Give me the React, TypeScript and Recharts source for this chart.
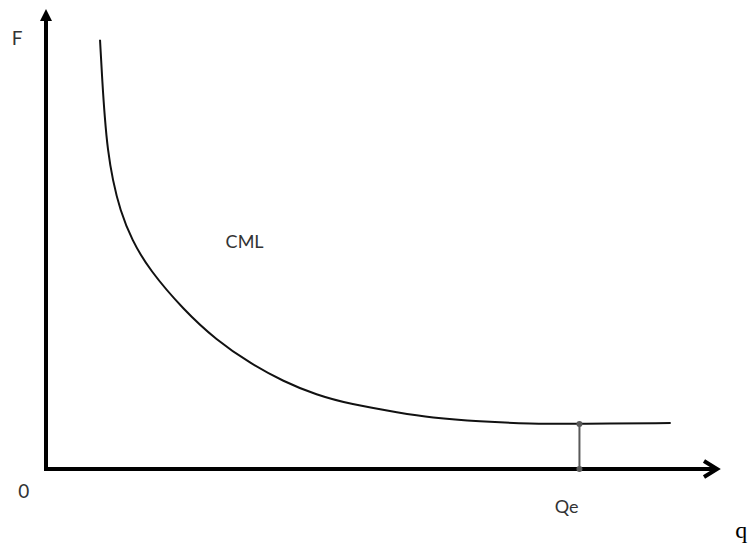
import { LineChart, Line, XAxis, YAxis, ReferenceLine, ReferenceDot } from "recharts";

// CML curve (q, F)
const qValues = [8.05, 8.4, 8.75, 9.2, 9.94, 11.03, 12.77, 15.4, 20.5, 25.4, 30.4, 35.4, 40.3, 45.3, 52.8, 57.2, 64.7, 72.1, 79.6, 93.1];
const fValues = [93.3, 84.0, 76.5, 69.3, 62.8, 56.3, 49.8, 43.3, 34.6, 28.0, 23.0, 19.0, 16.1, 14.1, 12.2, 11.2, 10.3, 9.85, 9.8, 10.0];

const qe = 79.5;
const fAtQe = 9.8;

// text labels with their position in data units
const labelNames = ["F", "0", "Qe", "CML", "q"];
const labelQ = [-4.3, -3.3, 77.6, 29.6, 103.6];
const labelF = [93.7, -4.6, -8.0, 49.6, -13.3];

const curve = qValues.map((q, i) => ({ q, f: fValues[i] }));

const labelStyle: Record<string, { font: string; size: number }> = {
  F: { font: "Lato, 'Open Sans', sans-serif", size: 19 },
  "0": { font: "Lato, 'Open Sans', sans-serif", size: 19 },
  Qe: { font: "Lato, 'Open Sans', sans-serif", size: 18 },
  CML: { font: "Lato, 'Open Sans', sans-serif", size: 18 },
  q: { font: "'Liberation Serif', serif", size: 24 },
};

const YArrow = (p: any) => {
  const { x1, y1, x2, y2 } = p;
  return (
    <g>
      <line x1={x1} y1={y1 + 2} x2={x2} y2={y2 + 10} stroke="#000" strokeWidth={4} />
      <path d={`M${x2},${y2} L${x2 - 6},${y2 + 12} L${x2 + 6},${y2 + 12} Z`} fill="#000" />
    </g>
  );
};

const XArrow = (p: any) => {
  const { x1, y1, x2, y2 } = p;
  return (
    <g>
      <line x1={x1 - 2} y1={y1} x2={x2 - 2} y2={y2} stroke="#000" strokeWidth={4} />
      <path
        d={`M${x2 - 13},${y2 - 8} L${x2},${y2} L${x2 - 13},${y2 + 8}`}
        fill="none"
        stroke="#000"
        strokeWidth={4}
        strokeLinejoin="miter"
      />
    </g>
  );
};

const App = () => {
  return (
    <div style={{ position: "absolute", left: 0, top: 0, background: "#fff" }}>
      <LineChart width={752} height={544} data={curve} margin={{ top: 9, right: 35, bottom: 75, left: 46 }}>
        <XAxis type="number" dataKey="q" domain={[0, 100]} hide />
        <YAxis type="number" domain={[0, 100]} hide />
        <ReferenceLine
          segment={[{ x: 0, y: 0 }, { x: 0, y: 100 }]}
          ifOverflow="visible"
          shape={YArrow}
        />
        <ReferenceLine
          segment={[{ x: 0, y: 0 }, { x: 100, y: 0 }]}
          ifOverflow="visible"
          shape={XArrow}
        />
        <Line
          type="basis"
          dataKey="f"
          stroke="#111"
          strokeWidth={2}
          dot={false}
          isAnimationActive={false}
        />
        <ReferenceLine
          segment={[{ x: qe, y: 0 }, { x: qe, y: fAtQe }]}
          stroke="#595959"
          strokeWidth={2}
          ifOverflow="visible"
        />
        <ReferenceDot x={qe} y={0} r={3} fill="#595959" stroke="none" ifOverflow="visible" />
        <ReferenceDot x={qe} y={fAtQe} r={3} fill="#595959" stroke="none" ifOverflow="visible" />
        {labelNames.map((name, i) => (
          <ReferenceDot
            key={name}
            x={labelQ[i]}
            y={labelF[i]}
            r={0}
            ifOverflow="visible"
            shape={(p: any) => (
              <text
                x={p.cx}
                y={p.cy}
                textAnchor="middle"
                dominantBaseline="central"
                fontFamily={labelStyle[name].font}
                fontSize={labelStyle[name].size}
                fill={name === "q" ? "#000" : "#333"}
              >
                {name}
              </text>
            )}
          />
        ))}
      </LineChart>
    </div>
  );
};

export default App;
